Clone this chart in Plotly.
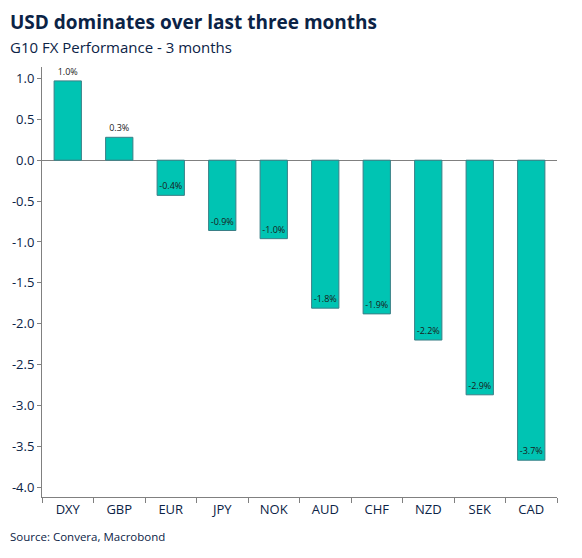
import plotly.graph_objects as go

categories = ["DXY", "GBP", "EUR", "JPY", "NOK", "AUD", "CHF", "NZD", "SEK", "CAD"]
values = [0.97, 0.28, -0.43, -0.86, -0.96, -1.81, -1.88, -2.20, -2.87, -3.67]

navy = "#0b2346"
teal = "#00c4b3"
FONT = "Open Sans"

fig = go.Figure()
fig.add_trace(go.Bar(
    x=categories, y=values,
    marker=dict(color=teal, line=dict(color="#3a7f86", width=1)),
    width=0.53,
    texttemplate="%{y:.1f}%",
    textposition=["outside" if v > 0 else "inside" for v in values],
    insidetextanchor="end",
    textangle=0,
    constraintext="none",
    textfont=dict(family=FONT, size=9, color="#1a1a1a"),
    cliponaxis=False,
))

fig.update_layout(
    width=582, height=558,
    margin=dict(l=42, r=25, t=67, b=61),
    paper_bgcolor="white", plot_bgcolor="white",
    showlegend=False,
    font=dict(family=FONT, color=navy),
    annotations=[
        dict(text="<b>USD dominates over last three months</b>", xref="paper", yref="paper",
             x=-0.066, y=1.0, xanchor="left", yanchor="bottom", yshift=30,
             showarrow=False, font=dict(size=19, color=navy, family=FONT)),
        dict(text="G10 FX Performance - 3 months", xref="paper", yref="paper",
             x=-0.066, y=1.0, xanchor="left", yanchor="bottom", yshift=8,
             showarrow=False, font=dict(size=15, color=navy, family=FONT)),
        dict(text="Source: Convera, Macrobond", xref="paper", yref="paper",
             x=-0.066, y=0, xanchor="left", yanchor="top", yshift=-30,
             showarrow=False, font=dict(size=11.5, color=navy, family=FONT)),
    ],
    bargap=0.47,
)

fig.update_xaxes(
    showline=True, linecolor="#808080", linewidth=1,
    ticks="outside", tickson="boundaries", ticklen=5, tickcolor="#808080",
    tickfont=dict(size=13, color=navy, family=FONT),
    showgrid=False, zeroline=False,
)
fig.update_yaxes(
    range=[-4.12, 1.14],
    tickmode="array", tickvals=[1.0, 0.5, 0.0, -0.5, -1.0, -1.5, -2.0, -2.5, -3.0, -3.5, -4.0],
    ticktext=["1.0", "0.5", "0.0", "-0.5", "-1.0", "-1.5", "-2.0", "-2.5", "-3.0", "-3.5", "-4.0"],
    showline=True, linecolor="#808080", linewidth=1,
    ticks="outside", ticklen=4, tickcolor="#808080",
    tickfont=dict(size=13, color=navy, family=FONT),
    showgrid=False, zeroline=True, zerolinecolor="#808080", zerolinewidth=1,
)

fig.write_html("out.html")
